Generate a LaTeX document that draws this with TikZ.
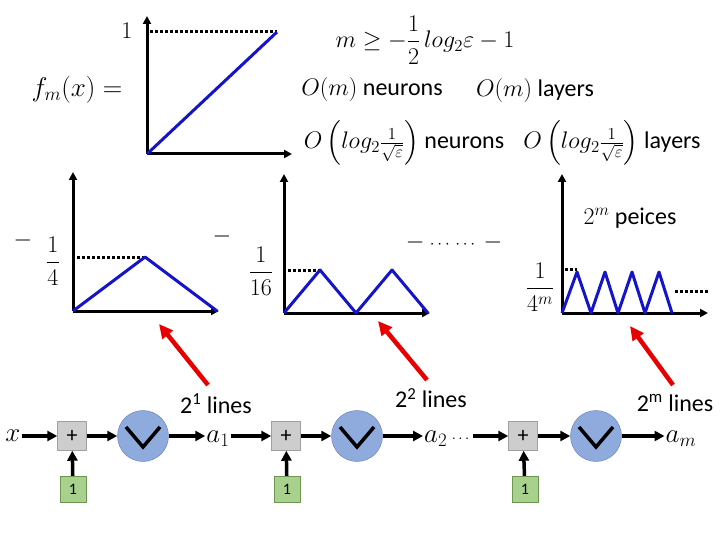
\RequirePackage{fix-cm}
\documentclass[tikz,border=0pt]{standalone}
\usepackage{amsmath}
\usepackage{fontspec}
\setmainfont{Carlito}
\usetikzlibrary{arrows.meta}
\definecolor{curveblue}{RGB}{20,20,200}
\definecolor{hintred}{RGB}{232,0,0}
\definecolor{addfill}{RGB}{205,205,205}
\definecolor{addedge}{RGB}{160,160,160}
\definecolor{biasfill}{RGB}{169,209,142}
\definecolor{biasedge}{RGB}{110,150,80}
\definecolor{relufill}{RGB}{143,170,220}
\definecolor{reluedge}{RGB}{100,125,180}
\begin{document}
\begin{tikzpicture}[x=1pt,y=-1pt,>={Triangle[length=8pt,width=8pt]},
  axis/.style={->,line width=3pt},
  curve/.style={line width=3pt,curveblue,line join=round},
  guide/.style={line width=3pt,dash pattern=on 3pt off 2pt},
  hint/.style={->,line width=4.5pt,hintred,>={Triangle[length=14pt,width=13pt]}},
  link/.style={->,line width=3.5pt,>={Triangle[length=10pt,width=10pt]}},
  vmark/.style={line width=3.5pt,line join=miter},
  addbox/.style={rectangle,draw=addedge,fill=addfill,minimum size=29pt,inner sep=0pt,font=\fontsize{22}{24}\selectfont},
  biasbox/.style={rectangle,draw=biasedge,fill=biasfill,minimum size=26pt,inner sep=0pt,font=\fontsize{16}{18}\selectfont},
  relu/.style={circle,draw=reluedge,fill=relufill,minimum size=51pt,inner sep=0pt},
  big/.style={font=\fontsize{24}{28}\selectfont,inner sep=0pt},
  var/.style={font=\fontsize{27}{31}\selectfont,inner sep=1pt}]
\useasboundingbox (0,0) rectangle (720,540);
% target function
\node[var] (fm) at (77,90) {$f_m(x) =$};
\node[big] (one) at (127,31) {$1$};
\draw[axis] (147,154) -- (147,16);
\draw[axis] (147,154) -- (292,154);
\draw[guide] (150,32) -- (277,32);
\draw[curve] (147,154) -- (277,32);
% cost
\node[big] (bound) at (425,40) {$m \geq -\dfrac{1}{2}\,log_2\varepsilon - 1$};
\node[big] (nm) at (372,90) {$O(m)$ neurons};
\node[big] (lm) at (535,91) {$O(m)$ layers};
\node[big] (nl) at (404,143) {$O\left(log_2\frac{1}{\sqrt{\varepsilon}}\right)$ neurons};
\node[big] (ll) at (612,143) {$O\left(log_2\frac{1}{\sqrt{\varepsilon}}\right)$ layers};
% sawtooth terms
\node[big] (m1) at (23,241) {$-$};
\node[big] (q1) at (53,261) {$\dfrac{1}{4}$};
\draw[axis] (73,311) -- (73,172);
\draw[axis] (73,311) -- (219,311);
\draw[guide] (77,257) -- (145,257);
\draw[curve] (73,311) -- (145,257) -- (217,311);
\node[big] (m2) at (222,237) {$-$};
\node[big] (q2) at (261,271) {$\dfrac{1}{16}$};
\draw[axis] (284,313) -- (284,174);
\draw[axis] (284,313) -- (430,313);
\draw[guide] (288,270) -- (320,270);
\draw[curve] (284,313) -- (320,270) -- (356,313) -- (392,270) -- (428,313);
\node[big] (mdots) at (454,242) {$-$\ {\fontsize{17}{20}\selectfont$\cdots\,\cdots$}\ $-$};
\node[big] (qm) at (540,287) {$\dfrac{1}{4^m}$};
\node[big] (pieces) at (630,218) {$2^m$ peices};
\draw[axis] (562,313) -- (562,174);
\draw[axis] (562,313) -- (708,313);
\draw[guide] (565,269) -- (577,269);
\draw[curve] (562,313) -- (577,272) -- (591,313) -- (605,272) -- (618,313)
  -- (632,272) -- (645,313) -- (659,272) -- (672,313);
\draw[guide] (675,291) -- (708,291);
% network
\node[var] (x) at (13,436) {$x$};
\node[addbox] (p1) at (72,436) {+};
\node[biasbox] (b1) at (73,489) {1};
\node[relu] (r1) at (143,436) {};
\node[var] (a1) at (218,439) {$a_1$};
\node[addbox] (p2) at (286,436) {+};
\node[biasbox] (b2) at (287,489) {1};
\node[relu] (r2) at (357,436) {};
\node[var] (a2) at (448,439) {$a_2$\,{\fontsize{15}{18}\selectfont$\cdots$}};
\node[addbox] (p3) at (523,436) {+};
\node[biasbox] (b3) at (525,489) {1};
\node[relu] (r3) at (596,436) {};
\node[var] (am) at (681,439) {$a_m$};
\draw[vmark] (r1) ++(-17,-9) -- ++(17,20) -- ++(17,-20);
\draw[vmark] (r2) ++(-17,-9) -- ++(17,20) -- ++(17,-20);
\draw[vmark] (r3) ++(-17,-9) -- ++(17,20) -- ++(17,-20);
\draw[link] (x) -- (p1); \draw[link] (b1) -- (p1); \draw[link] (p1) -- (r1); \draw[link] (r1) -- (a1.west |- r1);
\draw[link] (a1.east |- p2) -- (p2); \draw[link] (b2) -- (p2); \draw[link] (p2) -- (r2); \draw[link] (r2) -- (a2.west |- r2);
\draw[link] (a2.east |- p3) -- (p3); \draw[link] (b3) -- (p3); \draw[link] (p3) -- (r3); \draw[link] (r3) -- (am.west |- r3);
% line counts
\node[big] (l1) at (216,404) {2\textsuperscript{1} lines};
\node[big] (l2) at (431,398) {2\textsuperscript{2} lines};
\node[big] (lm2) at (675,403) {2\textsuperscript{m} lines};
\coordinate (h1s) at (208,385); \coordinate (h1e) at (159,324);
\coordinate (h2s) at (427,380); \coordinate (h2e) at (378,321);
\coordinate (h3s) at (673,385); \coordinate (h3e) at (630,326);
\draw[hint] (h1s) -- (h1e);
\draw[hint] (h2s) -- (h2e);
\draw[hint] (h3s) -- (h3e);
\end{tikzpicture}
\end{document}
